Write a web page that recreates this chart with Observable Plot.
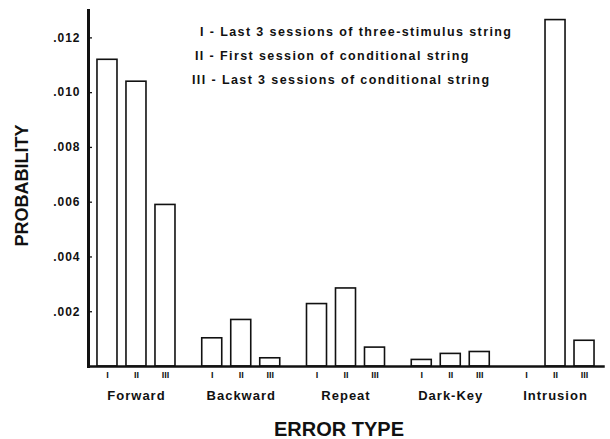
<!DOCTYPE html>
<html><head>
<meta charset="utf-8">
<script src="https://cdn.jsdelivr.net/npm/d3@7"></script>
<script src="https://cdn.jsdelivr.net/npm/@observablehq/plot@0.6"></script>
<style>
body{margin:0;background:#fff;}
#wrap{position:relative;width:610px;height:439px;font-family:"Liberation Sans",Arial,Helvetica,sans-serif;color:#111;}
#legend div{position:absolute;white-space:nowrap;font-weight:bold;font-size:12.5px;letter-spacing:1.4px;line-height:14px;}
svg{font-family:"Liberation Sans",Arial,Helvetica,sans-serif;font-weight:bold;color:#111;}
g[aria-label="y-axis tick label"] text{font-size:12px;letter-spacing:1px;}
g[aria-label="fx-axis tick label"] text{font-size:13px;letter-spacing:1px;}
g[aria-label="x-axis tick label"] text{font-size:9px;fill:#111;}
</style></head><body><div id="wrap"><div id="legend"></div></div>
<script>
const errorTypes = ["Forward", "Backward", "Repeat", "Dark-Key", "Intrusion"];
const sessions = ["I", "II", "III"];
const sessionDescriptions = [
  "Last 3 sessions of three-stimulus string",
  "First session of conditional string",
  "Last 3 sessions of conditional string"
];
// probabilities per error type, sessions I, II, III
const forwardValues   = [0.0112, 0.0104, 0.0059];
const backwardValues  = [0.00103, 0.0017, 0.0003];
const repeatValues    = [0.00228, 0.00285, 0.00069];
const darkKeyValues   = [0.00024, 0.00046, 0.00053];
const intrusionValues = [0, 0.01265, 0.00094];
const yTicks = [0.002, 0.004, 0.006, 0.008, 0.010, 0.012];
const xTitle = "ERROR TYPE";
const yTitle = "PROBABILITY";

const seriesByType = [forwardValues, backwardValues, repeatValues, darkKeyValues, intrusionValues];
const data = [];
errorTypes.forEach((t, i) => sessions.forEach((s, j) => data.push({type: t, session: s, value: seriesByType[i][j]})));

const chart = Plot.plot({
  width: 610,
  height: 439,
  marginLeft: 88,
  marginRight: 7,
  marginTop: 10,
  marginBottom: 73,
  fx: {domain: errorTypes, paddingInner: 0.084, paddingOuter: 0, round: false},
  x: {domain: sessions, paddingInner: 0.31, paddingOuter: 0.3095, round: false},
  y: {domain: [0, 0.013]},
  marks: [
    Plot.barY(data, {fx: "type", x: "session", y: "value", fill: "white", stroke: "#111", strokeWidth: 1.6}),
    Plot.frame({facet: "super", anchor: "left", strokeWidth: 3, stroke: "#111"}),
    Plot.frame({facet: "super", anchor: "bottom", strokeWidth: 2.5, stroke: "#111"}),
    Plot.axisY({ticks: yTicks, tickFormat: d => d3.format(".3f")(d).replace(/^0/, ""), tickSize: 0, tickPadding: 8, label: null}),
    Plot.axisY({ticks: yTicks, tickSize: -4, fill: "none", label: null, strokeWidth: 1.3}),
    Plot.axisX({anchor: "bottom", tickSize: 0, tickPadding: 5, label: null}),
    Plot.axisFx({anchor: "bottom", tickSize: 0, tickPadding: 24, label: null}),
    Plot.text([xTitle], {facet: "super", frameAnchor: "bottom", dx: -7, dy: 69, fontSize: 20, fontWeight: "bold", fill: "#111"}),
    Plot.text([yTitle], {facet: "super", frameAnchor: "left", rotate: -90, dx: -66, dy: 58, fontSize: 18, fontWeight: "bold", fill: "#111"})
  ]
});
document.getElementById("wrap").appendChild(chart);

const legendPos = [[200, 25], [195, 49], [192, 73]];
const legend = document.getElementById("legend");
sessions.forEach((s, i) => {
  const d = document.createElement("div");
  d.style.left = legendPos[i][0] + "px";
  d.style.top = legendPos[i][1] + "px";
  d.textContent = s + " - " + sessionDescriptions[i];
  legend.appendChild(d);
});
</script>
</body></html>
